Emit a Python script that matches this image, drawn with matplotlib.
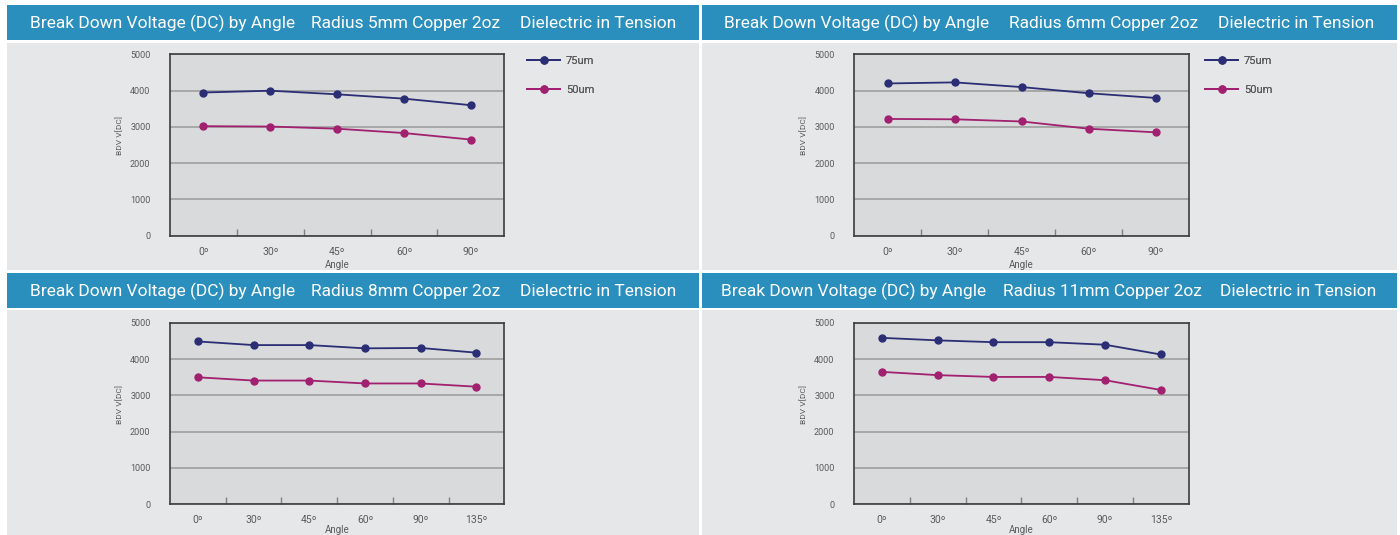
import matplotlib
matplotlib.use('Agg')
import matplotlib.pyplot as plt
from matplotlib.patches import Rectangle

plt.rcParams['font.family'] = ['Roboto', 'DejaVu Sans']

# data
radius = ['5mm', '6mm', '8mm', '11mm']
angles_5 = ['0º', '30º', '45º', '60º', '90º']
angles_6 = ['0º', '30º', '45º', '60º', '90º']
angles_8 = ['0º', '30º', '45º', '60º', '90º', '135º']
angles_11 = ['0º', '30º', '45º', '60º', '90º', '135º']

bdv75_5 = [3950, 4000, 3900, 3780, 3600]
bdv50_5 = [3020, 3010, 2950, 2830, 2650]
bdv75_6 = [4200, 4230, 4100, 3930, 3800]
bdv50_6 = [3220, 3210, 3150, 2950, 2850]
bdv75_8 = [4490, 4390, 4390, 4300, 4310, 4180]
bdv50_8 = [3500, 3410, 3410, 3330, 3330, 3240]
bdv75_11 = [4590, 4520, 4470, 4470, 4400, 4130]
bdv50_11 = [3650, 3560, 3510, 3510, 3420, 3150]

W, H = 1400, 535
BLUE = '#2b8fbe'
PANEL = '#e6e7e9'
PLOTBG = '#d9dadc'
NAVY = '#2b2e74'
MAGENTA = '#a1206f'
GREYTXT = '#5a5a5a'

fig = plt.figure(figsize=(W / 100, H / 100), dpi=100)
fig.patch.set_facecolor('white')


def fx(x):
    return x / W


def fy(y):
    return 1 - y / H


def panel(px, py, pw, ph, head_y0, head_y1, titles, title_x, ax_box, leg_x,
          angle_y, cats, s75, s50):
    # gray panel + blue header bar
    fig.add_artist(Rectangle((fx(px), fy(py + ph)), pw / W, ph / H,
                             transform=fig.transFigure, color=PANEL, lw=0, zorder=0))
    fig.add_artist(Rectangle((fx(px), fy(head_y1)), pw / W, (head_y1 - head_y0) / H,
                             transform=fig.transFigure, color=BLUE, lw=0, zorder=0))
    for t, x in zip(titles, title_x):
        fig.text(fx(x), fy((head_y0 + head_y1) / 2 + 1), t, color='white',
                 fontsize=12.5, ha='left', va='center')

    l, t, r, b = ax_box
    ax = fig.add_axes([fx(l), fy(b), (r - l) / W, (b - t) / H])
    ax.set_facecolor(PLOTBG)
    x = list(range(len(cats)))
    ax.plot(x, s75, color=NAVY, lw=1.3, marker='o', ms=5, label='75um', zorder=3)
    ax.plot(x, s50, color=MAGENTA, lw=1.3, marker='o', ms=5, label='50um', zorder=3)
    ax.set_xlim(-0.5, len(cats) - 0.5)
    ax.set_ylim(0, 5000)
    ax.set_yticks([0, 1000, 2000, 3000, 4000, 5000])
    ax.set_xticks(x)
    ax.set_xticklabels(cats)
    ax.set_xticks([i + 0.5 for i in x[:-1]], minor=True)
    ax.tick_params(axis='y', length=0, pad=14, labelsize=6.5, labelcolor=GREYTXT)
    ax.tick_params(axis='x', which='major', length=0, pad=8, labelsize=7.5,
                   labelcolor=GREYTXT)
    ax.tick_params(axis='x', which='minor', direction='in', length=5, width=1,
                   color='#808080')
    ax.grid(axis='y', color='#9a9a9a', lw=1.1)
    ax.set_axisbelow(True)
    for s in ax.spines.values():
        s.set_color('#3c3c3c')
        s.set_linewidth(1.2)
    ax.set_ylabel('BDV V[DC]', fontsize=6, color=GREYTXT)
    ax.yaxis.set_label_coords(-0.14, 0.55)
    # "Angle" placed in figure pixels, the reference cuts the lower one at the edge
    fig.text(fx((l + r) / 2), fy(angle_y), 'Angle', fontsize=7, color=GREYTXT,
             ha='center', va='center')
    leg = ax.legend(loc='upper left', bbox_to_anchor=(fx(leg_x), fy(56)),
                    bbox_transform=fig.transFigure, frameon=False, fontsize=8,
                    handlelength=3.0, handletextpad=0.5, labelspacing=1.7,
                    borderpad=0, borderaxespad=0)
    for txt in leg.get_texts():
        txt.set_color(GREYTXT)
    return ax


head = 'Break Down Voltage (DC) by Angle'
tens = 'Dielectric in Tension'

panel(7, 43, 692, 227, 5, 40,
      [head, 'Radius %s Copper 2oz' % radius[0], tens], [30, 311, 520],
      (170, 54.5, 504.3, 235.5), 527, 265.5, angles_5, bdv75_5, bdv50_5)
panel(702, 43, 695, 227, 5, 40,
      [head, 'Radius %s Copper 2oz' % radius[1], tens], [724, 1009, 1218],
      (854.3, 54.5, 1189, 235.5), 1205, 265.5, angles_6, bdv75_6, bdv50_6)
panel(7, 310, 692, 225, 273, 308,
      [head, 'Radius %s Copper 2oz' % radius[2], tens], [30, 311, 520],
      (170, 323, 504.3, 504), 527, 530, angles_8, bdv75_8, bdv50_8)
panel(702, 310, 695, 225, 273, 308,
      [head, 'Radius %s Copper 2oz' % radius[3], tens], [721, 1003, 1220],
      (854, 323, 1188.7, 504), 1205, 530, angles_11, bdv75_11, bdv50_11)

fig.savefig('out.png', dpi=100)
